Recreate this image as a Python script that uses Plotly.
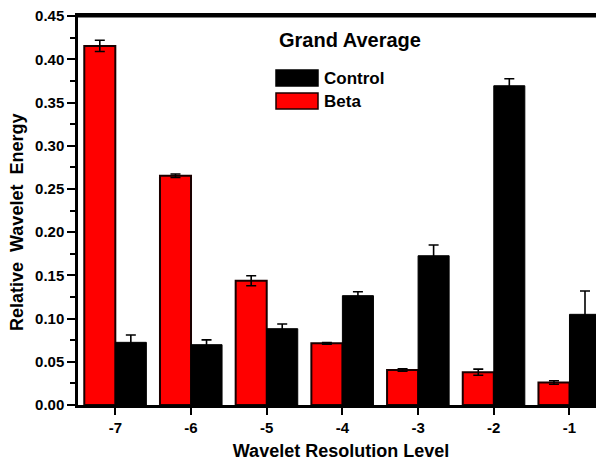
import plotly.graph_objects as go

levels = [-7, -6, -5, -4, -3, -2, -1]
tick_labels = ["-7", "-6", "-5", "-4", "-3", "-2", "-1"]
beta = [0.4155, 0.2653, 0.1438, 0.0714, 0.0405, 0.0380, 0.0260]
beta_err = [0.0065, 0.0020, 0.0058, 0.0010, 0.0015, 0.0035, 0.0020]
control = [0.0725, 0.0698, 0.0883, 0.1265, 0.1727, 0.3694, 0.1049]
control_err = [0.0085, 0.0055, 0.0054, 0.0045, 0.0125, 0.0081, 0.0270]
y_ticks = [0.00, 0.05, 0.10, 0.15, 0.20, 0.25, 0.30, 0.35, 0.40, 0.45]
y_minor = [0.025, 0.075, 0.125, 0.175, 0.225, 0.275, 0.325, 0.375, 0.425]

FONT = "Liberation Sans, Arial, sans-serif"

fig = go.Figure()
fig.add_trace(go.Bar(
    x=levels, y=beta, name="Beta",
    marker=dict(color="#FF0000", line=dict(color="#1a0000", width=2)),
    error_y=dict(type="data", array=beta_err, color="black", thickness=1.6, width=5),
))
fig.add_trace(go.Bar(
    x=levels, y=control, name="Control",
    marker=dict(color="#000000", line=dict(color="#000000", width=1)),
    error_y=dict(type="data", array=control_err, color="black", thickness=1.6, width=5),
))

# The page body adds an 8px offset; the figure is sized so its plot area lands
# where the reference's does.
fig.update_layout(
    width=596, height=455,
    margin=dict(l=70, r=0, t=8, b=58),
    paper_bgcolor="white", plot_bgcolor="white",
    barmode="group", bargap=0.18, bargroupgap=0,
    showlegend=False,
    font=dict(family=FONT, color="black"),
)
fig.update_xaxes(
    range=[-7.493, -0.544],
    tickmode="array", tickvals=levels, ticktext=tick_labels,
    ticks="outside", ticklen=7, tickwidth=2, tickcolor="black",
    showline=True, linecolor="black", linewidth=2.5, mirror=True,
    showgrid=False, zeroline=False, automargin=False,
    tickfont=dict(family=FONT, size=15, color="black", weight="bold"),
    title=dict(text="<b>Wavelet Resolution Level</b>", font=dict(family=FONT, size=18, color="black"), standoff=10),
)
fig.update_yaxes(
    range=[0, 0.4501],
    tickmode="array", tickvals=y_ticks,
    ticktext=["%.2f" % v for v in y_ticks],
    ticklabeloverflow="allow",
    ticks="outside", ticklen=8, tickwidth=2, tickcolor="black",
    minor=dict(tickvals=y_minor, ticks="outside", ticklen=5, tickwidth=1.5, tickcolor="black"),
    showline=True, linecolor="black", linewidth=2.5, mirror=False,
    showgrid=False, zeroline=False, automargin=False,
    tickfont=dict(family=FONT, size=15, color="black", weight="bold"),
)

# top frame line
fig.add_shape(type="line", xref="paper", yref="paper", x0=0, x1=1, y0=1, y1=1,
              line=dict(color="black", width=3), layer="above")

def px_x(px):
    return (px - 78) / (604 - 78)

def px_y(py):
    return (405 - py) / (405 - 16)

# y-axis title
fig.add_annotation(x=px_x(17), y=px_y(223), xref="paper", yref="paper",
                   text="<b>Relative  Wavelet  Energy</b>", textangle=-90, showarrow=False,
                   font=dict(family=FONT, size=18, color="black"), xanchor="center", yanchor="middle")

# Legend drawn manually (title + boxes + labels)
fig.add_annotation(x=px_x(350), y=px_y(40), xref="paper", yref="paper",
                   text="<b>Grand Average</b>", showarrow=False,
                   font=dict(family=FONT, size=20, color="black"), xanchor="center", yanchor="middle")
legend_items = [("Control", "#000000", "#000000", 78), ("Beta", "#FF0000", "#1a0000", 101)]
for name, fill, edge, cy in legend_items:
    fig.add_shape(type="rect", xref="paper", yref="paper",
                  x0=px_x(276), x1=px_x(318), y0=px_y(cy + 8), y1=px_y(cy - 8),
                  fillcolor=fill, line=dict(color=edge, width=1.5))
    fig.add_annotation(x=px_x(322), y=px_y(cy), xref="paper", yref="paper",
                       text="<b>" + name + "</b>", showarrow=False,
                       font=dict(family=FONT, size=17, color="black"), xanchor="left", yanchor="middle")

fig.write_html("out.html")
